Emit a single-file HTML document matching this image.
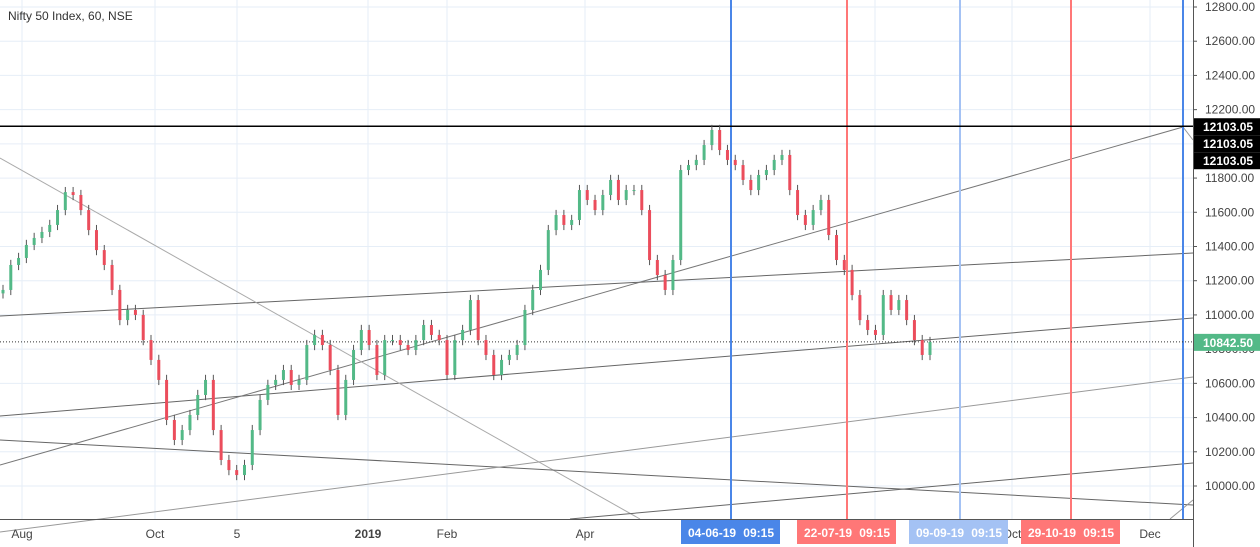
<!DOCTYPE html>
<html><head><meta charset="utf-8"><style>
body{margin:0;background:#fff;font-family:"Liberation Sans",sans-serif}
svg{display:block}
</style></head><body>
<svg id="c" width="1260" height="547" font-family="Liberation Sans, sans-serif"></svg>
<script>
const closes=[11146,11292,11333,11409,11450,11485,11526,11613,11718,11701,11613,11496,11379,11292,11146,10970,11029,11000,10853,10737,10620,10386,10269,10327,10415,10532,10620,10327,10152,10093,10064,10123,10327,10503,10591,10620,10678,10591,10620,10824,10883,10824,10678,10415,10620,10795,10912,10824,10649,10853,10853,10824,10795,10853,10941,10883,10853,10649,10853,10912,11087,10853,10766,10649,10737,10766,10824,11029,11146,11263,11496,11584,11526,11555,11730,11672,11613,11701,11789,11672,11730,11730,11613,11321,11233,11146,11321,11847,11876,11906,11993,12081,11964,11906,11876,11789,11730,11818,11847,11906,11935,11730,11584,11526,11613,11672,11467,11321,11263,11116,10970,10912,10883,11116,11029,11087,10970,10853,10766,10842];
const priceTicks=[12800,12600,12400,12200,11800,11600,11400,11200,11000,10800,10600,10400,10200,10000];
const timeLabels=["Aug","Oct","5","2019","Feb","Apr","Aug","Oct","Dec"];
const timePos=[22,155,237,368,447,585,875,1012,1150];
const lastPrice=10842.50, highPrice=12103.05;
const NS="http://www.w3.org/2000/svg";
const svg=document.getElementById('c');
const PW=1193,PH=519;
function y(p){return 7+(12800-p)*0.17107;}
function xi(i){return 3+i*(927/(closes.length-1));}
function mk(t,a,parent){const e=document.createElementNS(NS,t);for(const k in a)e.setAttribute(k,a[k]);(parent||svg).appendChild(e);return e;}
for(let p=10000;p<=12800;p+=200){const l=mk('line',{x1:0,x2:PW,y1:y(p),y2:y(p),stroke:'#e6eef7'});

}
timePos.forEach(x=>{const l=mk('line',{x1:x,x2:x,y1:0,y2:PH,stroke:'#e6eef7'});

});
const tl=[[0,316,1193,253,'#666'],[0,416,1193,318,'#666'],[0,465,1183,127,'#777'],[0,158,640,519,'#aaa'],[0,440,1193,505,'#666'],[0,532,1193,377,'#999'],[570,519,1193,463,'#666'],[1170,519,1193,500,'#999'],[1183,127,1193,140,'#999']];
tl.forEach(t=>{const l=mk('line',{x1:t[0],y1:t[1],x2:t[2],y2:t[3],stroke:t[4],'stroke-width':1});

});
[[731,'#4a86e8',2],[847,'#f77',2],[960,'#a4c2f4',2],[1071,'#f77',2],[1183,'#4a86e8',2]].forEach(v=>{const l=mk('line',{x1:v[0],x2:v[0],y1:0,y2:PH,stroke:v[1],'stroke-width':v[2]});

});
const hl=mk('line',{x1:0,x2:PW,y1:y(highPrice),y2:y(highPrice),stroke:'#000','stroke-width':1.5});


const dl=mk('line',{x1:0,x2:PW,y1:y(lastPrice),y2:y(lastPrice),stroke:'#333','stroke-dasharray':'1,2'});


for(let i=0;i<closes.length;i++){
 const o=i?closes[i-1]:closes[0]-20,c=closes[i];
 const hi=Math.max(o,c)+30,lo=Math.min(o,c)-30;
 const col=c>=o?'#53b987':'#eb4d5c';
 const x=xi(i);
 const g=mk('g',{});
 
 
 mk('line',{x1:x,x2:x,y1:y(hi),y2:y(lo),stroke:'#555'},g);
 mk('rect',{x:x-1.5,y:Math.min(y(o),y(c)),width:3,height:Math.max(1,Math.abs(y(o)-y(c))),fill:col},g);
}
mk('line',{x1:PW+0.5,x2:PW+0.5,y1:0,y2:547,stroke:'#555'});
mk('line',{x1:0,x2:PW,y1:PH+0.5,y2:PH+0.5,stroke:'#555'});
priceTicks.forEach(p=>{mk('line',{x1:PW,x2:PW+4,y1:y(p),y2:y(p),stroke:'#555'});
const t=mk('text',{x:1205,y:y(p)+4,'font-size':12,fill:'#444'});t.textContent=p.toFixed(2);

});
[y(highPrice),y(highPrice)+17,y(highPrice)+34].forEach(yy=>{mk('rect',{x:PW+1,y:yy-8,width:66,height:17,fill:'#000'});
const t=mk('text',{x:1203,y:yy+5,'font-size':12,'font-weight':'bold',fill:'#fff'});t.textContent=highPrice.toFixed(2);

});
mk('rect',{x:PW+1,y:y(lastPrice)-8,width:66,height:17,fill:'#53b987'});
const lp=mk('text',{x:1203,y:y(lastPrice)+5,'font-size':12,'font-weight':'bold',fill:'#fff'});lp.textContent=lastPrice.toFixed(2);


timeLabels.forEach((s,i)=>{const t=mk('text',{x:timePos[i],y:538,'font-size':12,fill:'#444','text-anchor':'middle','font-weight':s==='2019'?'bold':'normal'});t.textContent=s;

});
[['04-06-19','#4a86e8',681],['22-07-19','#f77',797],['09-09-19','#a4c2f4',909],['29-10-19','#f77',1021]].forEach(b=>{
 const g=mk('g',{});
 
 
 mk('rect',{x:b[2],y:520,width:99,height:24,fill:b[1]},g);
 const t1=mk('text',{x:b[2]+7,y:537,'font-size':12,'font-weight':'bold',fill:'#fff'},g);t1.textContent=b[0];
 const t2=mk('text',{x:b[2]+93,y:537,'font-size':12,'font-weight':'bold',fill:'#fff','text-anchor':'end'},g);t2.textContent='09:15';});
const ti=mk('text',{x:8,y:20,'font-size':12,fill:'#333'});ti.textContent='Nifty 50 Index, 60, NSE';


</script>
</body></html>
